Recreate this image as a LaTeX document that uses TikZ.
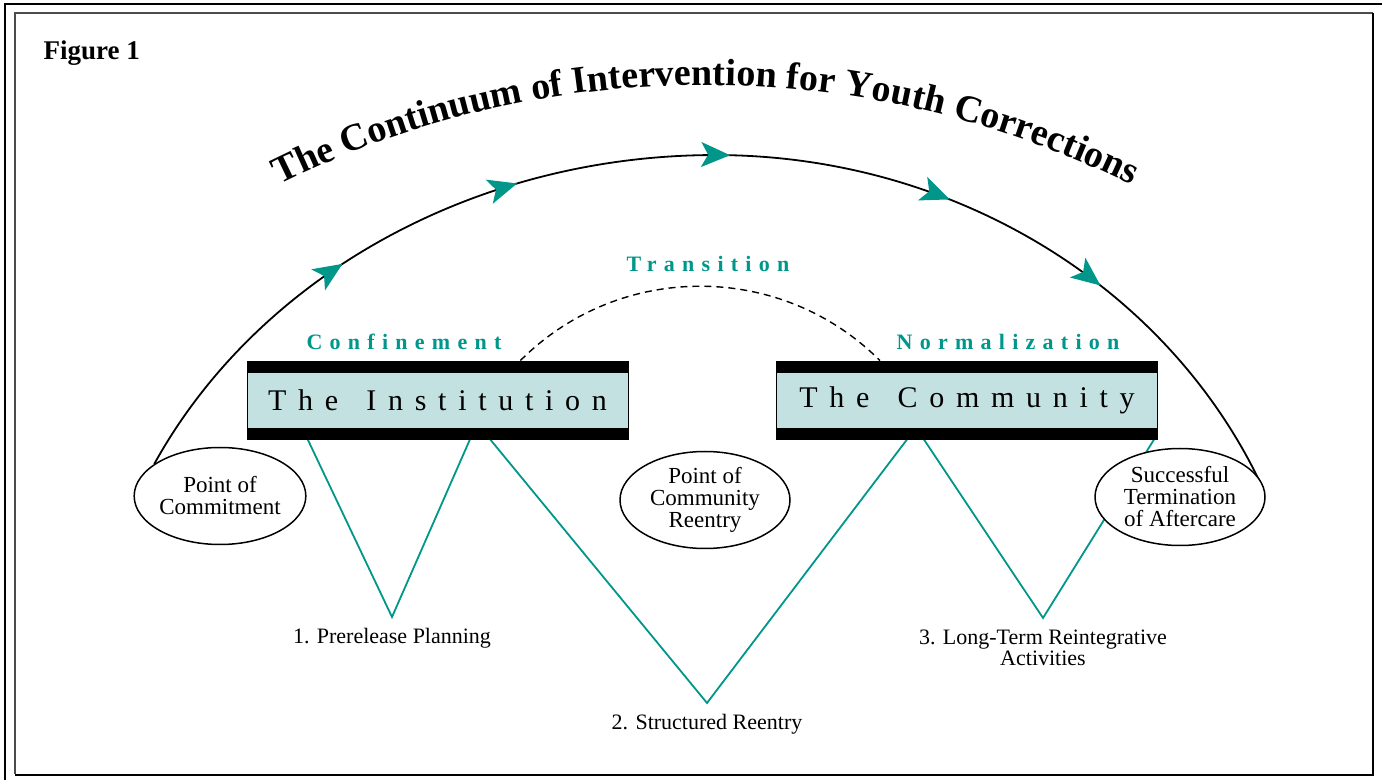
\documentclass[tikz,border=0pt]{standalone}
\usepackage{fontspec}
\setmainfont{Liberation Serif}
\usepackage{tikz}
\usetikzlibrary{positioning,calc,shapes.geometric,arrows.meta,decorations.text,decorations.markings,backgrounds}
\definecolor{corrteal}{RGB}{0,150,138}
\definecolor{bandfill}{RGB}{195,225,225}

\begin{document}
\begin{tikzpicture}[x=1pt,y=1pt,
		setting/.style={draw=black, fill=bandfill, line width=0.8pt, minimum width=381pt, minimum height=78pt, inner sep=0pt,
			font=\fontsize{30}{32}\selectfont\addfontfeature{LetterSpace=39},
			path picture={
				\fill[black] (path picture bounding box.north west) rectangle ([yshift=-12pt]path picture bounding box.north east);
				\fill[black] (path picture bounding box.south west) rectangle ([yshift=11pt]path picture bounding box.south east);
			}},
		stage/.style={text=corrteal, anchor=base, inner sep=0pt, font=\fontsize{22}{24}\selectfont\bfseries\addfontfeature{LetterSpace=33}},
		station/.style={ellipse, draw=black, line width=1.5pt, fill=white, minimum width=170pt, minimum height=97pt, inner sep=0pt, align=center, font=\fontsize{23}{22}\selectfont},
		phase/.style={align=center, inner sep=2pt, font=\fontsize{22}{21}\selectfont},
		path line/.style={corrteal, line width=1.8pt},
		flowtip/.tip={Stealth[length=29pt, width=25pt, inset=7pt, color=corrteal]}]
			\useasboundingbox (0,0) rectangle (1382,780);
			\draw[line width=1.2pt] (5,0) -- (5,776) -- (1382,776);
			\draw[line width=2.5pt, black!70] (15,6) -- (15,767) -- (1373,767);
			\draw[line width=2pt] (15,5) -- (1373,5) -- (1373,767);
			
			\node[anchor=base west, font=\fontsize{27}{29}\selectfont\bfseries] (fig) at (40,720) {Figure 1};
			\path[decorate, decoration={text along path, text align=center,
				text={|\fontsize{38}{40}\selectfont\bfseries|The Continuum of Intervention for Youth Corrections}}]
				(705,-263) ++(130:958) arc[start angle=130, end angle=50, radius=958];
			
			\node[setting] (inst) at (437.5,380) {The\hspace{0.3em} Institution};
			\node[setting] (comm) at (967,380) {The\hspace{0.3em} Community};
			\node[stage] (conf) at (404,430) {Confinement};
			\node[stage] (trans) at (708,508) {Transition};
			\node[stage] (norm) at (1008,430) {Normalization};
			
			\node[station] (commit) at (220,284) {Point of\\Commitment};
			\node[station] (reentry) at (705,280) {Point of\\Community\\Reentry};
			\node[station] (term) at (1180,283) {Successful\\Termination\\of Aftercare};
			
			\coordinate (v1) at (392,163);
			\coordinate (v2) at (707,77);
			\coordinate (v3) at (1043,162);
			\node[phase, below=9pt of v1] (plan) {1. Prerelease Planning};
			\node[phase, below=9pt of v2] (struct) {2. Structured Reentry};
			\node[phase, below=10pt of v3] (longterm) {3. Long-Term Reintegrative\\Activities};
			
			\begin{scope}[on background layer]
				\draw[line width=1.8pt, postaction={decorate, decoration={markings,
						mark=at position 0.207 with {\arrow{flowtip}},
						mark=at position 0.351 with {\arrow{flowtip}},
						mark=at position 0.512 with {\arrow{flowtip}},
						mark=at position 0.680 with {\arrow{flowtip}},
						mark=at position 0.810 with {\arrow{flowtip}}}}]
					(commit.154) arc[start angle=154, end angle=90, x radius=624, y radius=550]
					arc[start angle=90, end angle=24, x radius=596, y radius=550];
				\draw[line width=1.4pt, dash pattern=on 7pt off 5pt]
					($(inst.north west)!0.717!(inst.north east)$) to[out=45, in=135] ($(comm.north west)!0.272!(comm.north east)$);
				\draw[path line] ($(inst.south west)!0.16!(inst.south east)$) -- (v1) -- ($(inst.south west)!0.585!(inst.south east)$);
				\draw[path line] ($(inst.south west)!0.638!(inst.south east)$) -- (v2) -- ($(comm.south west)!0.343!(comm.south east)$);
				\draw[path line] ($(comm.south west)!0.387!(comm.south east)$) -- (v3) -- ($(comm.south west)!0.99!(comm.south east)$);
			\end{scope}
\end{tikzpicture}
\end{document}
